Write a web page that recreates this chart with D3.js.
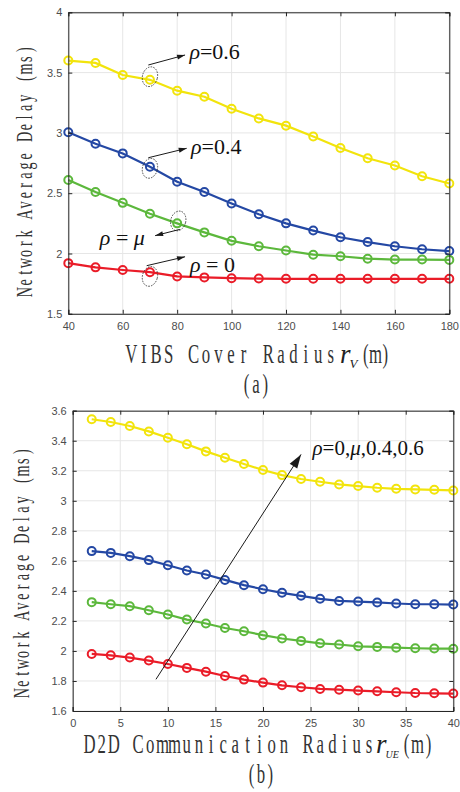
<!DOCTYPE html>
<html>
<head>
<meta charset="utf-8">
<script src="https://cdn.jsdelivr.net/npm/d3@7"></script>
<style>
  body { margin: 0; background: #fff; }
</style>
</head>
<body>
<div class="canvas"></div>
<script>
// ---------------- data: panel (a) ----------------
const radiusV = [40, 50, 60, 70, 80, 90, 100, 110, 120, 130, 140, 150, 160, 170, 180];
const delayA_06 = [3.60, 3.58, 3.48, 3.44, 3.35, 3.30, 3.20, 3.12, 3.06, 2.97, 2.875, 2.79, 2.73, 2.64, 2.58];
const delayA_04 = [3.005, 2.91, 2.83, 2.72, 2.595, 2.51, 2.415, 2.325, 2.25, 2.19, 2.135, 2.095, 2.06, 2.035, 2.02];
const delayA_mu = [2.61, 2.51, 2.42, 2.33, 2.25, 2.175, 2.105, 2.06, 2.025, 1.99, 1.977, 1.957, 1.95, 1.95, 1.947];
const delayA_0  = [1.92, 1.885, 1.863, 1.845, 1.81, 1.802, 1.795, 1.792, 1.79, 1.79, 1.79, 1.79, 1.79, 1.79, 1.79];
const ticksXA = [40, 60, 80, 100, 120, 140, 160, 180];
const ticksYA = [1.5, 2, 2.5, 3, 3.5, 4];

// ---------------- data: panel (b) ----------------
const radiusUE = [2, 4, 6, 8, 10, 12, 14, 16, 18, 20, 22, 24, 26, 28, 30, 32, 34, 36, 38, 40];
const delayB_06 = [3.543, 3.525, 3.498, 3.462, 3.42, 3.376, 3.329, 3.287, 3.245, 3.205, 3.171, 3.145, 3.127, 3.109, 3.098, 3.087, 3.08, 3.076, 3.073, 3.069];
const delayB_04 = [2.665, 2.653, 2.631, 2.605, 2.571, 2.536, 2.509, 2.473, 2.438, 2.411, 2.387, 2.367, 2.347, 2.333, 2.329, 2.323, 2.316, 2.311, 2.311, 2.309];
const delayB_mu = [2.325, 2.311, 2.298, 2.271, 2.243, 2.209, 2.183, 2.153, 2.131, 2.105, 2.083, 2.067, 2.051, 2.043, 2.031, 2.027, 2.022, 2.018, 2.016, 2.015];
const delayB_0  = [1.98, 1.971, 1.956, 1.936, 1.913, 1.887, 1.862, 1.833, 1.809, 1.789, 1.771, 1.758, 1.747, 1.742, 1.736, 1.731, 1.725, 1.72, 1.718, 1.716];
const ticksXB = [0, 5, 10, 15, 20, 25, 30, 35, 40];
const ticksYB = [1.6, 1.8, 2, 2.2, 2.4, 2.6, 2.8, 3, 3.2, 3.4, 3.6];

// annotations in data units: ellipse centre, arrow start -> end, label anchor
const annotA = [
  { label: 'ρ', rest: '=0.6',  ex: 70, ey: 3.466, ax1: 69.4, ay1: 3.563, ax2: 82.9, ay2: 3.646, lx: 84.5, ly: 3.61 },
  { label: 'ρ', rest: '=0.4',  ex: 70, ey: 2.706, ax1: 69.4, ay1: 2.794, ax2: 83.5, ay2: 2.872, lx: 85.1, ly: 2.823 },
  { label: 'ρ', rest: ' = ',   ex: 80.4, ey: 2.27, ax1: 81, ay1: 2.2, ax2: 71.9, ay2: 2.148, lx: 51.6, ly: 2.07, mu: true },
  { label: 'ρ', rest: ' = 0',  ex: 70, ey: 1.81, ax1: 68.8, ay1: 1.899, ax2: 82.9, ay2: 1.973, lx: 84.7, ly: 1.849 }
];
const arrowB = { x1: 8.75, y1: 1.811, x2: 24.0, y2: 3.309, lx: 25.2, ly: 3.305 };

const colors = { c06: '#f2e40c', c04: '#2448a4', cmu: '#5cb83c', c0: '#ea1c28' };

const svg = d3.select('.canvas').append('svg').attr('width', 460).attr('height', 792);

function drawPanel(cfg) {
  let x = d3.scaleLinear().domain(cfg.xDomain).range([cfg.left, cfg.right]);
  let y = d3.scaleLinear().domain(cfg.yDomain).range([cfg.bottom, cfg.top]);
  let g = svg.append('g');

  // grid
  g.selectAll('.gx').data(cfg.xTicks).enter().append('line')
    .attr('x1', d => x(d)).attr('x2', d => x(d))
    .attr('y1', cfg.top).attr('y2', cfg.bottom)
    .attr('stroke', '#e6e6e6').attr('stroke-width', 1);
  g.selectAll('.gy').data(cfg.yTicks).enter().append('line')
    .attr('x1', cfg.left).attr('x2', cfg.right)
    .attr('y1', d => y(d)).attr('y2', d => y(d))
    .attr('stroke', '#e6e6e6').attr('stroke-width', 1);

  // series
  cfg.series.forEach(s => {
    let pts = cfg.xs.map((v, i) => [v, s.values[i]]);
    g.append('path')
      .datum(pts)
      .attr('d', d3.line().x(d => x(d[0])).y(d => y(d[1])))
      .attr('fill', 'none').attr('stroke', s.color).attr('stroke-width', 2.2);
    g.selectAll(null).data(pts).enter().append('circle')
      .attr('cx', d => x(d[0])).attr('cy', d => y(d[1])).attr('r', 4)
      .attr('fill', 'none').attr('stroke', s.color).attr('stroke-width', 2);
  });

  // axes (ticks inward, box)
  let tick = 4;
  let axB = d3.axisBottom(x).tickValues(cfg.xTicks).tickSize(-tick).tickPadding(8).tickFormat(d3.format('~g'));
  let axL = d3.axisLeft(y).tickValues(cfg.yTicks).tickSize(-tick).tickPadding(6).tickFormat(d3.format('~g'));
  let axT = d3.axisTop(x).tickValues(cfg.xTicks).tickSize(-tick).tickFormat('');
  let axR = d3.axisRight(y).tickValues(cfg.yTicks).tickSize(-tick).tickFormat('');
  [[axB, `translate(0,${cfg.bottom})`], [axL, `translate(${cfg.left},0)`],
   [axT, `translate(0,${cfg.top})`], [axR, `translate(${cfg.right},0)`]].forEach(a => {
    let ag = g.append('g').attr('transform', a[1]).call(a[0]);
    ag.select('.domain').attr('stroke', '#262626').attr('stroke-width', 1);
    ag.selectAll('.tick line').attr('stroke', '#262626');
    ag.selectAll('.tick text').attr('fill', '#4d4d4d')
      .attr('font-family', 'Liberation Sans, Arial, sans-serif').attr('font-size', 11);
  });

  return { x: x, y: y, g: g };
}

function arrow(g, x1, y1, x2, y2, len, wid, sw) {
  g.append('line').attr('x1', x1).attr('y1', y1).attr('x2', x2).attr('y2', y2)
    .attr('stroke', '#1a1a1a').attr('stroke-width', sw);
  let ang = Math.atan2(y2 - y1, x2 - x1);
  let bx = x2 - len * Math.cos(ang), by = y2 - len * Math.sin(ang);
  let px = Math.sin(ang) * wid / 2, py = -Math.cos(ang) * wid / 2;
  g.append('polygon')
    .attr('points', `${x2},${y2} ${bx + px},${by + py} ${bx - px},${by - py}`)
    .attr('fill', '#1a1a1a');
}

// ---------------- panel (a) ----------------
let pa = drawPanel({
  xDomain: [40, 180], yDomain: [1.5, 4],
  left: 68.3, right: 449.3, top: 12.3, bottom: 313.8,
  xTicks: ticksXA, yTicks: ticksYA, xs: radiusV,
  series: [
    { values: delayA_06, color: colors.c06 },
    { values: delayA_04, color: colors.c04 },
    { values: delayA_mu, color: colors.cmu },
    { values: delayA_0,  color: colors.c0 }
  ]
});

annotA.forEach(a => {
  let cx = pa.x(a.ex), cy = pa.y(a.ey);
  pa.g.append('ellipse')
    .attr('cx', cx).attr('cy', cy).attr('rx', 7.5).attr('ry', 10)
    .attr('transform', `rotate(15,${cx},${cy})`)
    .attr('fill', 'none').attr('stroke', '#333').attr('stroke-width', 0.8)
    .attr('stroke-dasharray', '1.6,1.2');
  arrow(pa.g, pa.x(a.ax1), pa.y(a.ay1), pa.x(a.ax2), pa.y(a.ay2), 8, 5, 1);
  let t = pa.g.append('text')
    .attr('x', pa.x(a.lx)).attr('y', pa.y(a.ly))
    .attr('font-family', 'Liberation Serif, Times New Roman, serif')
    .attr('font-size', 22).attr('fill', '#111');
  t.append('tspan').attr('font-style', 'italic').text(a.label);
  t.append('tspan').text(a.rest);
  if (a.mu) t.append('tspan').attr('font-style', 'italic').text('μ');
});

// ---------------- panel (b) ----------------
let pb = drawPanel({
  xDomain: [0, 40], yDomain: [1.6, 3.6],
  left: 72.7, right: 453.3, top: 410.7, bottom: 711,
  xTicks: ticksXB, yTicks: ticksYB, xs: radiusUE,
  series: [
    { values: delayB_06, color: colors.c06 },
    { values: delayB_04, color: colors.c04 },
    { values: delayB_mu, color: colors.cmu },
    { values: delayB_0,  color: colors.c0 }
  ]
});

arrow(pb.g, pb.x(arrowB.x1), pb.y(arrowB.y1), pb.x(arrowB.x2), pb.y(arrowB.y2), 14, 9, 1);
let tb = pb.g.append('text')
  .attr('x', pb.x(arrowB.lx)).attr('y', pb.y(arrowB.ly))
  .attr('font-family', 'Liberation Serif, Times New Roman, serif')
  .attr('font-size', 21).attr('fill', '#111');
tb.append('tspan').attr('font-style', 'italic').text('ρ');
tb.append('tspan').text('=0,');
tb.append('tspan').attr('font-style', 'italic').text('μ');
tb.append('tspan').text(',0.4,0.6');

// ---------------- axis titles (monospaced serif look) ----------------
const serif = 'Liberation Serif, Times New Roman, serif';

// each character centred in its own cell, glyphs squeezed horizontally by sx
function monoText(transform, str, width, size, sx) {
  let adv = width / str.length / sx;
  let xs = str.split('').map((c, i) => ((i + 0.5) * adv).toFixed(2)).join(' ');
  svg.append('g').attr('transform', transform + ` scale(${sx},1)`)
    .append('text')
    .attr('x', xs).attr('y', 0)
    .attr('text-anchor', 'middle')
    .attr('font-family', serif).attr('font-size', size).attr('fill', '#333')
    .text(str);
}

// y titles
monoText('translate(31.5,297) rotate(-90)', 'Network Average Delay  (ms)', 262, 23, 0.62);
monoText('translate(28.5,698) rotate(-90)', 'Network Average Delay  (ms)', 261, 23, 0.62);

function xTitle(label, x0, x1, base, sub, rx, subSize, unitX0, unitX1) {
  monoText(`translate(${x0},${base})`, label, x1 - x0, 27, 0.62);
  let t = svg.append('text').attr('x', rx).attr('y', base)
    .attr('font-family', serif).attr('font-style', 'italic').attr('fill', '#222');
  t.append('tspan').attr('font-size', 27).text('r');
  t.append('tspan').attr('font-size', subSize).attr('dy', 5).attr('dx', -1).text(sub);
  monoText(`translate(${unitX0},${base})`, '(m)', unitX1 - unitX0, 27, 0.62);
}
xTitle('VIBS Cover Radius', 125, 337, 363, 'V', 340, 13, 361, 390);
xTitle('D2D Communication Radius', 83.5, 375, 753, 'UE', 376, 10, 401, 434);

monoText('translate(242,393)', '(a)', 28, 27, 0.62);
monoText('translate(247,783)', '(b)', 28, 27, 0.62);
</script>
</body>
</html>
